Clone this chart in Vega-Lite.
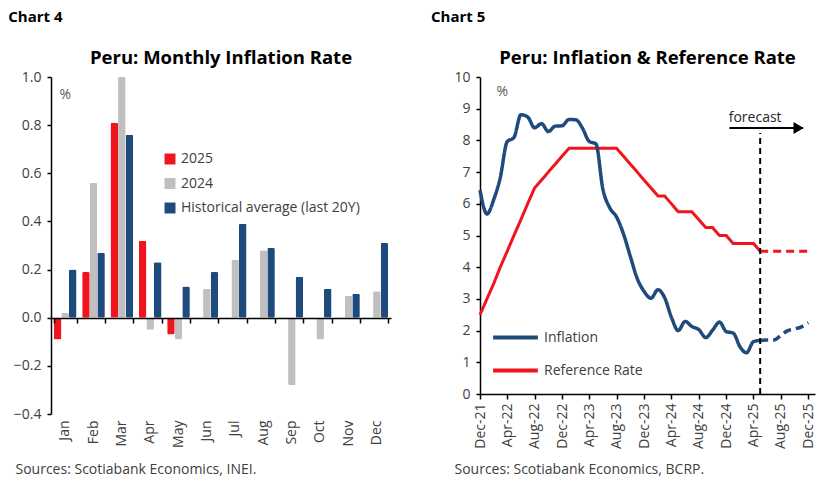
{
  "$schema": "https://vega.github.io/schema/vega-lite/v6.json",
  "background": "white",
  "padding": {"left": 8, "top": 9, "right": 5, "bottom": 5},
  "spacing": 39,
  "config": {
    "font": "Open Sans",
    "view": {"stroke": null},
    "axis": {"labelFontSize": 14, "labelColor": "#404040", "domainColor": "#000", "tickColor": "#000", "grid": false, "domainWidth": 1.5, "tickWidth": 1.5},
    "legend": {"labelFontSize": 14, "labelColor": "#404040", "title": null, "labelLimit": 300}
  },
  "resolve": {"scale": {"color": "independent"}, "legend": {"color": "independent"}},
  "datasets": {
    "monthly": [
      {"month": "Jan", "series": "2025", "value": -0.09},
      {"month": "Feb", "series": "2025", "value": 0.19},
      {"month": "Mar", "series": "2025", "value": 0.81},
      {"month": "Apr", "series": "2025", "value": 0.32},
      {"month": "May", "series": "2025", "value": -0.07},
      {"month": "Jan", "series": "2024", "value": 0.02},
      {"month": "Feb", "series": "2024", "value": 0.56},
      {"month": "Mar", "series": "2024", "value": 1.0},
      {"month": "Apr", "series": "2024", "value": -0.05},
      {"month": "May", "series": "2024", "value": -0.09},
      {"month": "Jun", "series": "2024", "value": 0.12},
      {"month": "Jul", "series": "2024", "value": 0.24},
      {"month": "Aug", "series": "2024", "value": 0.28},
      {"month": "Sep", "series": "2024", "value": -0.28},
      {"month": "Oct", "series": "2024", "value": -0.09},
      {"month": "Nov", "series": "2024", "value": 0.09},
      {"month": "Dec", "series": "2024", "value": 0.11},
      {"month": "Jan", "series": "Historical average (last 20Y)", "value": 0.2},
      {"month": "Feb", "series": "Historical average (last 20Y)", "value": 0.27},
      {"month": "Mar", "series": "Historical average (last 20Y)", "value": 0.76},
      {"month": "Apr", "series": "Historical average (last 20Y)", "value": 0.23},
      {"month": "May", "series": "Historical average (last 20Y)", "value": 0.13},
      {"month": "Jun", "series": "Historical average (last 20Y)", "value": 0.19},
      {"month": "Jul", "series": "Historical average (last 20Y)", "value": 0.39},
      {"month": "Aug", "series": "Historical average (last 20Y)", "value": 0.29},
      {"month": "Sep", "series": "Historical average (last 20Y)", "value": 0.17},
      {"month": "Oct", "series": "Historical average (last 20Y)", "value": 0.12},
      {"month": "Nov", "series": "Historical average (last 20Y)", "value": 0.1},
      {"month": "Dec", "series": "Historical average (last 20Y)", "value": 0.31}
    ],
    "inflation": [
      {"date": "2021-12-01", "phase": "actual", "value": 6.43},
      {"date": "2022-01-01", "phase": "actual", "value": 5.68},
      {"date": "2022-02-01", "phase": "actual", "value": 6.15},
      {"date": "2022-03-01", "phase": "actual", "value": 6.82},
      {"date": "2022-04-01", "phase": "actual", "value": 7.96},
      {"date": "2022-05-01", "phase": "actual", "value": 8.09},
      {"date": "2022-06-01", "phase": "actual", "value": 8.81},
      {"date": "2022-07-01", "phase": "actual", "value": 8.74},
      {"date": "2022-08-01", "phase": "actual", "value": 8.4},
      {"date": "2022-09-01", "phase": "actual", "value": 8.53},
      {"date": "2022-10-01", "phase": "actual", "value": 8.28},
      {"date": "2022-11-01", "phase": "actual", "value": 8.45},
      {"date": "2022-12-01", "phase": "actual", "value": 8.46},
      {"date": "2023-01-01", "phase": "actual", "value": 8.66},
      {"date": "2023-02-01", "phase": "actual", "value": 8.65},
      {"date": "2023-03-01", "phase": "actual", "value": 8.4},
      {"date": "2023-04-01", "phase": "actual", "value": 7.97},
      {"date": "2023-05-01", "phase": "actual", "value": 7.89},
      {"date": "2023-06-01", "phase": "actual", "value": 6.46},
      {"date": "2023-07-01", "phase": "actual", "value": 5.88},
      {"date": "2023-08-01", "phase": "actual", "value": 5.58},
      {"date": "2023-09-01", "phase": "actual", "value": 5.04},
      {"date": "2023-10-01", "phase": "actual", "value": 4.34},
      {"date": "2023-11-01", "phase": "actual", "value": 3.64},
      {"date": "2023-12-01", "phase": "actual", "value": 3.24},
      {"date": "2024-01-01", "phase": "actual", "value": 3.02},
      {"date": "2024-02-01", "phase": "actual", "value": 3.29},
      {"date": "2024-03-01", "phase": "actual", "value": 3.05},
      {"date": "2024-04-01", "phase": "actual", "value": 2.42},
      {"date": "2024-05-01", "phase": "actual", "value": 2.0},
      {"date": "2024-06-01", "phase": "actual", "value": 2.29},
      {"date": "2024-07-01", "phase": "actual", "value": 2.13},
      {"date": "2024-08-01", "phase": "actual", "value": 2.03},
      {"date": "2024-09-01", "phase": "actual", "value": 1.78},
      {"date": "2024-10-01", "phase": "actual", "value": 2.01},
      {"date": "2024-11-01", "phase": "actual", "value": 2.27},
      {"date": "2024-12-01", "phase": "actual", "value": 1.97},
      {"date": "2025-01-01", "phase": "actual", "value": 1.92},
      {"date": "2025-02-01", "phase": "actual", "value": 1.48},
      {"date": "2025-03-01", "phase": "actual", "value": 1.3},
      {"date": "2025-04-01", "phase": "actual", "value": 1.65},
      {"date": "2025-05-01", "phase": "actual", "value": 1.69},
      {"date": "2025-05-01", "phase": "forecast", "value": 1.69},
      {"date": "2025-06-01", "phase": "forecast", "value": 1.7},
      {"date": "2025-07-01", "phase": "forecast", "value": 1.7},
      {"date": "2025-08-01", "phase": "forecast", "value": 1.85},
      {"date": "2025-09-01", "phase": "forecast", "value": 2.0},
      {"date": "2025-10-01", "phase": "forecast", "value": 2.05},
      {"date": "2025-11-01", "phase": "forecast", "value": 2.12},
      {"date": "2025-12-01", "phase": "forecast", "value": 2.25}
    ],
    "rate": [
      {"date": "2021-12-01", "phase": "actual", "value": 2.5},
      {"date": "2022-01-01", "phase": "actual", "value": 3.0},
      {"date": "2022-02-01", "phase": "actual", "value": 3.5},
      {"date": "2022-03-01", "phase": "actual", "value": 4.0},
      {"date": "2022-04-01", "phase": "actual", "value": 4.5},
      {"date": "2022-05-01", "phase": "actual", "value": 5.0},
      {"date": "2022-06-01", "phase": "actual", "value": 5.5},
      {"date": "2022-07-01", "phase": "actual", "value": 6.0},
      {"date": "2022-08-01", "phase": "actual", "value": 6.5},
      {"date": "2022-09-01", "phase": "actual", "value": 6.75},
      {"date": "2022-10-01", "phase": "actual", "value": 7.0},
      {"date": "2022-11-01", "phase": "actual", "value": 7.25},
      {"date": "2022-12-01", "phase": "actual", "value": 7.5},
      {"date": "2023-01-01", "phase": "actual", "value": 7.75},
      {"date": "2023-02-01", "phase": "actual", "value": 7.75},
      {"date": "2023-03-01", "phase": "actual", "value": 7.75},
      {"date": "2023-04-01", "phase": "actual", "value": 7.75},
      {"date": "2023-05-01", "phase": "actual", "value": 7.75},
      {"date": "2023-06-01", "phase": "actual", "value": 7.75},
      {"date": "2023-07-01", "phase": "actual", "value": 7.75},
      {"date": "2023-08-01", "phase": "actual", "value": 7.75},
      {"date": "2023-09-01", "phase": "actual", "value": 7.5},
      {"date": "2023-10-01", "phase": "actual", "value": 7.25},
      {"date": "2023-11-01", "phase": "actual", "value": 7.0},
      {"date": "2023-12-01", "phase": "actual", "value": 6.75},
      {"date": "2024-01-01", "phase": "actual", "value": 6.5},
      {"date": "2024-02-01", "phase": "actual", "value": 6.25},
      {"date": "2024-03-01", "phase": "actual", "value": 6.25},
      {"date": "2024-04-01", "phase": "actual", "value": 6.0},
      {"date": "2024-05-01", "phase": "actual", "value": 5.75},
      {"date": "2024-06-01", "phase": "actual", "value": 5.75},
      {"date": "2024-07-01", "phase": "actual", "value": 5.75},
      {"date": "2024-08-01", "phase": "actual", "value": 5.5},
      {"date": "2024-09-01", "phase": "actual", "value": 5.25},
      {"date": "2024-10-01", "phase": "actual", "value": 5.25},
      {"date": "2024-11-01", "phase": "actual", "value": 5.0},
      {"date": "2024-12-01", "phase": "actual", "value": 5.0},
      {"date": "2025-01-01", "phase": "actual", "value": 4.75},
      {"date": "2025-02-01", "phase": "actual", "value": 4.75},
      {"date": "2025-03-01", "phase": "actual", "value": 4.75},
      {"date": "2025-04-01", "phase": "actual", "value": 4.75},
      {"date": "2025-05-01", "phase": "actual", "value": 4.5},
      {"date": "2025-05-01", "phase": "forecast", "value": 4.5},
      {"date": "2025-08-01", "phase": "forecast", "value": 4.5},
      {"date": "2025-12-01", "phase": "forecast", "value": 4.5}
    ]
  },
  "hconcat": [
    {
      "title": {"text": "Chart 4", "anchor": "start", "fontSize": 15, "fontWeight": "bold", "offset": 24, "dx": -5, "color": "#000"},
      "vconcat": [
        {
          "title": {"text": "Peru: Monthly Inflation Rate", "fontSize": 18.5, "fontWeight": "bold", "offset": 3, "color": "#000"},
          "width": 340,
          "height": 337,
          "data": {"name": "monthly"},
          "layer": [
            {
              "mark": {"type": "bar", "cornerRadius": 1.5},
              "encoding": {
                "x": {
                  "field": "month", "type": "ordinal",
                  "sort": ["Jan", "Feb", "Mar", "Apr", "May", "Jun", "Jul", "Aug", "Sep", "Oct", "Nov", "Dec"],
                  "scale": {"paddingInner": 0.2, "paddingOuter": 0.1},
                  "axis": {"orient": "top", "offset": -241, "labels": false, "title": null, "tickBand": "extent", "tickSize": -5, "zindex": 1}
                },
                "xOffset": {
                  "field": "series", "type": "nominal",
                  "sort": ["2025", "2024", "Historical average (last 20Y)"],
                  "scale": {"paddingInner": 0, "paddingOuter": 0}
                },
                "y": {
                  "field": "value", "type": "quantitative",
                  "scale": {"domain": [-0.4, 1.0], "nice": false},
                  "axis": {
                    "values": [-0.4, -0.2, 0, 0.2, 0.4, 0.6, 0.8, 1.0], "format": ".1f",
                    "tickSize": 4, "labelPadding": 6,
                    "title": "%", "titleAngle": 0, "titleX": 8, "titleY": 17, "titleAlign": "left", "titleBaseline": "middle",
                    "titleFontSize": 14, "titleFontWeight": "normal", "titleColor": "#595959"
                  }
                },
                "color": {
                  "field": "series", "type": "nominal",
                  "scale": {"domain": ["2025", "2024", "Historical average (last 20Y)"], "range": ["#f0141e", "#c0c0c0", "#1f4a7c"]},
                  "legend": {"orient": "none", "legendX": 112, "legendY": 75, "symbolType": "square", "symbolSize": 120, "rowPadding": 10.5, "labelOffset": 4}
                }
              }
            },
            {
              "mark": {"type": "text", "text": ""},
              "encoding": {
                "x": {
                  "field": "month", "type": "ordinal",
                  "sort": ["Jan", "Feb", "Mar", "Apr", "May", "Jun", "Jul", "Aug", "Sep", "Oct", "Nov", "Dec"],
                  "axis": {
                    "orient": "bottom", "labelAngle": -90, "ticks": false, "domain": false, "labelPadding": 6,
                    "title": "Sources: Scotiabank Economics, INEI.", "titleX": -36, "titleY": 59, "titleAlign": "left", "titleAnchor": null,
                    "titleBaseline": "alphabetic", "titleFontSize": 14, "titleFontWeight": "normal", "titleColor": "#404040"
                  }
                }
              }
            }
          ],
          "resolve": {"axis": {"x": "independent"}}
        }
      ]
    },
    {
      "title": {"text": "Chart 5", "anchor": "start", "fontSize": 15, "fontWeight": "bold", "offset": 24, "dx": -23, "color": "#000"},
      "vconcat": [
        {
          "title": {"text": "Peru: Inflation & Reference Rate", "fontSize": 18.5, "fontWeight": "bold", "offset": 3, "color": "#000"},
          "width": 335,
          "height": 317,
          "encoding": {
            "x": {
              "field": "date", "type": "temporal",
              "scale": {"type": "utc", "domain": [{"year": 2021, "month": 12, "date": 1, "utc": true}, {"year": 2025, "month": 12, "date": 31, "utc": true}]},
              "axis": {
                "values": [
                  {"year": 2021, "month": 12, "date": 1, "utc": true},
                  {"year": 2022, "month": 4, "date": 1, "utc": true},
                  {"year": 2022, "month": 8, "date": 1, "utc": true},
                  {"year": 2022, "month": 12, "date": 1, "utc": true},
                  {"year": 2023, "month": 4, "date": 1, "utc": true},
                  {"year": 2023, "month": 8, "date": 1, "utc": true},
                  {"year": 2023, "month": 12, "date": 1, "utc": true},
                  {"year": 2024, "month": 4, "date": 1, "utc": true},
                  {"year": 2024, "month": 8, "date": 1, "utc": true},
                  {"year": 2024, "month": 12, "date": 1, "utc": true},
                  {"year": 2025, "month": 4, "date": 1, "utc": true},
                  {"year": 2025, "month": 8, "date": 1, "utc": true},
                  {"year": 2025, "month": 12, "date": 1, "utc": true}
                ],
                "format": "%b-%y", "labelAngle": -90, "tickSize": 5, "labelPadding": 4,
                "title": "Sources: Scotiabank Economics, BCRP.", "titleX": -26, "titleY": 79, "titleAlign": "left", "titleAnchor": null,
                "titleBaseline": "alphabetic", "titleFontSize": 14, "titleFontWeight": "normal", "titleColor": "#404040"
              }
            },
            "y": {
              "field": "value", "type": "quantitative",
              "scale": {"domain": [0, 10], "nice": false},
              "axis": {
                "values": [0, 1, 2, 3, 4, 5, 6, 7, 8, 9, 10], "tickSize": 4, "labelPadding": 6,
                "title": "%", "titleAngle": 0, "titleX": 16, "titleY": 14, "titleAlign": "left", "titleBaseline": "middle",
                "titleFontSize": 14, "titleFontWeight": "normal", "titleColor": "#595959"
              }
            }
          },
          "layer": [
            {
              "data": {"name": "rate"},
              "mark": {"type": "line", "strokeWidth": 3},
              "encoding": {
                "color": {
                  "datum": "Reference Rate",
                  "scale": {"domain": ["Inflation", "Reference Rate"], "range": ["#1f4a7c", "#f0141e"]},
                  "legend": {"orient": "none", "legendX": 11, "legendY": 236, "symbolType": "stroke", "symbolSize": 2000, "symbolStrokeWidth": 4, "rowPadding": -26, "labelOffset": 4}
                },
                "strokeDash": {"field": "phase", "type": "nominal", "scale": {"domain": ["actual", "forecast"], "range": [[1, 0], [8, 5]]}, "legend": null}
              }
            },
            {
              "data": {"name": "inflation"},
              "mark": {"type": "line", "strokeWidth": 3.5, "interpolate": "monotone"},
              "encoding": {
                "color": {"datum": "Inflation"},
                "strokeDash": {"field": "phase", "type": "nominal", "legend": null}
              }
            },
            {
              "data": {"values": [{"date": "2025-05-01", "value": 0, "top": 8.23}]},
              "mark": {"type": "rule", "color": "#000", "strokeWidth": 2, "strokeDash": [6, 4]},
              "encoding": {"y2": {"field": "top"}}
            },
            {
              "data": {"values": [{"date": "2024-12-15", "end": "2025-11-08", "value": 8.39}]},
              "mark": {"type": "rule", "color": "#000", "strokeWidth": 2},
              "encoding": {"x2": {"field": "end"}}
            },
            {
              "data": {"values": [{"date": "2025-10-19", "value": 8.39}]},
              "mark": {"type": "point", "shape": "triangle-right", "filled": true, "size": 140, "color": "#000", "opacity": 1}
            },
            {
              "data": {"values": [{"date": "2024-12-12", "value": 8.5, "label": "forecast"}]},
              "mark": {"type": "text", "align": "left", "baseline": "bottom", "fontSize": 14, "color": "#262626"},
              "encoding": {"text": {"field": "label"}}
            }
          ]
        }
      ]
    }
  ]
}
